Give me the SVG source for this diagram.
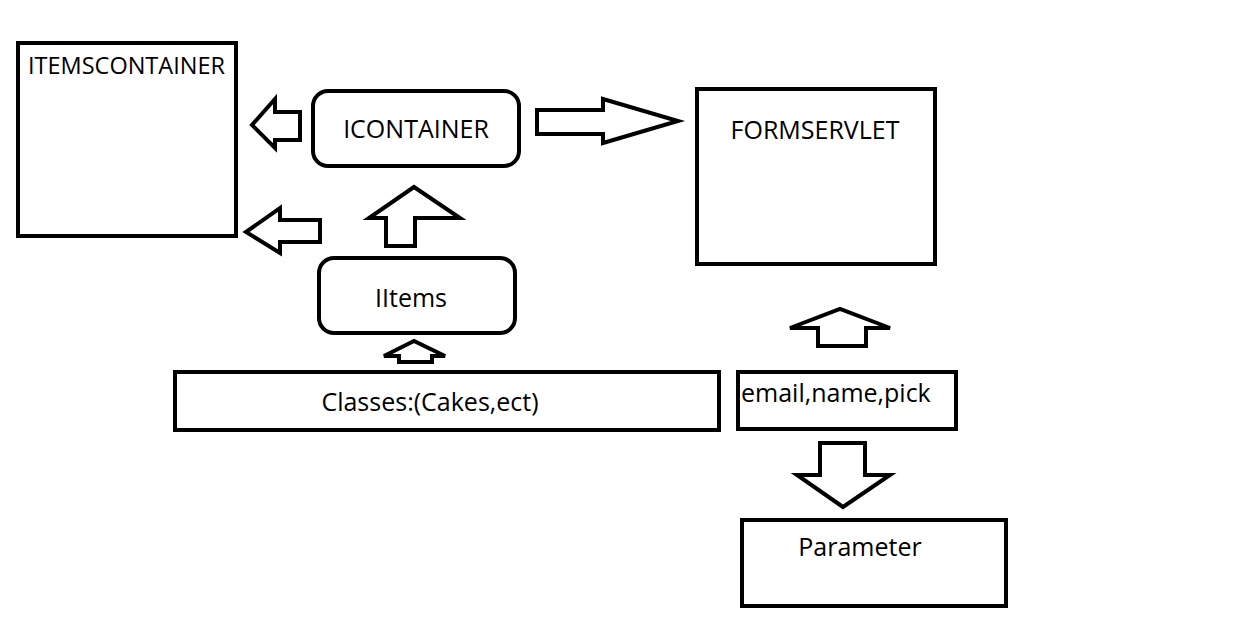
<svg xmlns="http://www.w3.org/2000/svg" width="1238" height="624" viewBox="0 0 1238 624">
<style>
.b{fill:none;stroke:#000;stroke-width:4;stroke-linejoin:miter}
.a{fill:#fff;stroke:#000;stroke-width:4;stroke-linejoin:miter}
.t{font-family:"Open Sans","Noto Sans",sans-serif;font-size:25px;fill:#000}
.s{font-size:23.5px}
</style>
<rect width="1238" height="624" fill="#fff"/>
<g id="itemscontainer"><rect class="b" x="18" y="43" width="218" height="193"/><text class="t s" x="28" y="74">ITEMSCONTAINER</text></g>
<g id="icontainer"><rect class="b" x="313" y="91" width="206" height="75" rx="15"/><text class="t" x="416" y="138" text-anchor="middle">ICONTAINER</text></g>
<g id="formservlet"><rect class="b" x="697" y="89" width="238" height="175"/><text class="t" x="815" y="139" text-anchor="middle">FORMSERVLET</text></g>
<g id="iitems"><rect class="b" x="319" y="258" width="196" height="75" rx="15"/><text class="t" x="411" y="307" text-anchor="middle">IItems</text></g>
<g id="classes"><rect class="b" x="175" y="372" width="544" height="58"/><text class="t" x="430" y="411" text-anchor="middle">Classes:(Cakes,ect)</text></g>
<g id="fields"><rect class="b" x="738" y="372" width="218" height="57"/><text class="t" x="741" y="402">email,name,pick</text></g>
<g id="parameter"><rect class="b" x="742" y="520" width="264" height="86"/><text class="t" x="860" y="556" text-anchor="middle">Parameter</text></g>
<g id="connectors">
<polygon class="a" points="300,112 275,112 275,99 252,125 275,148 275,140 300,140"/>
<polygon class="a" points="320,220 280,220 280,208 246,232 280,253 280,242 320,242"/>
<polygon class="a" points="386,246 386,218 369,218 414,187 460,218 415,218 415,246"/>
<polygon class="a" points="537,110 603,110 603,99 678,121 603,143 603,134 537,134"/>
<polygon class="a" points="399,362 399,356 384,356 414,341 445,356 432,356 432,362"/>
<polygon class="a" points="818,346 818,328 790,328 840,309 890,328 866,328 866,346"/>
<polygon class="a" points="820,443 865,443 865,475 890,475 843,507 797,475 820,475"/>
</g>
</svg>
